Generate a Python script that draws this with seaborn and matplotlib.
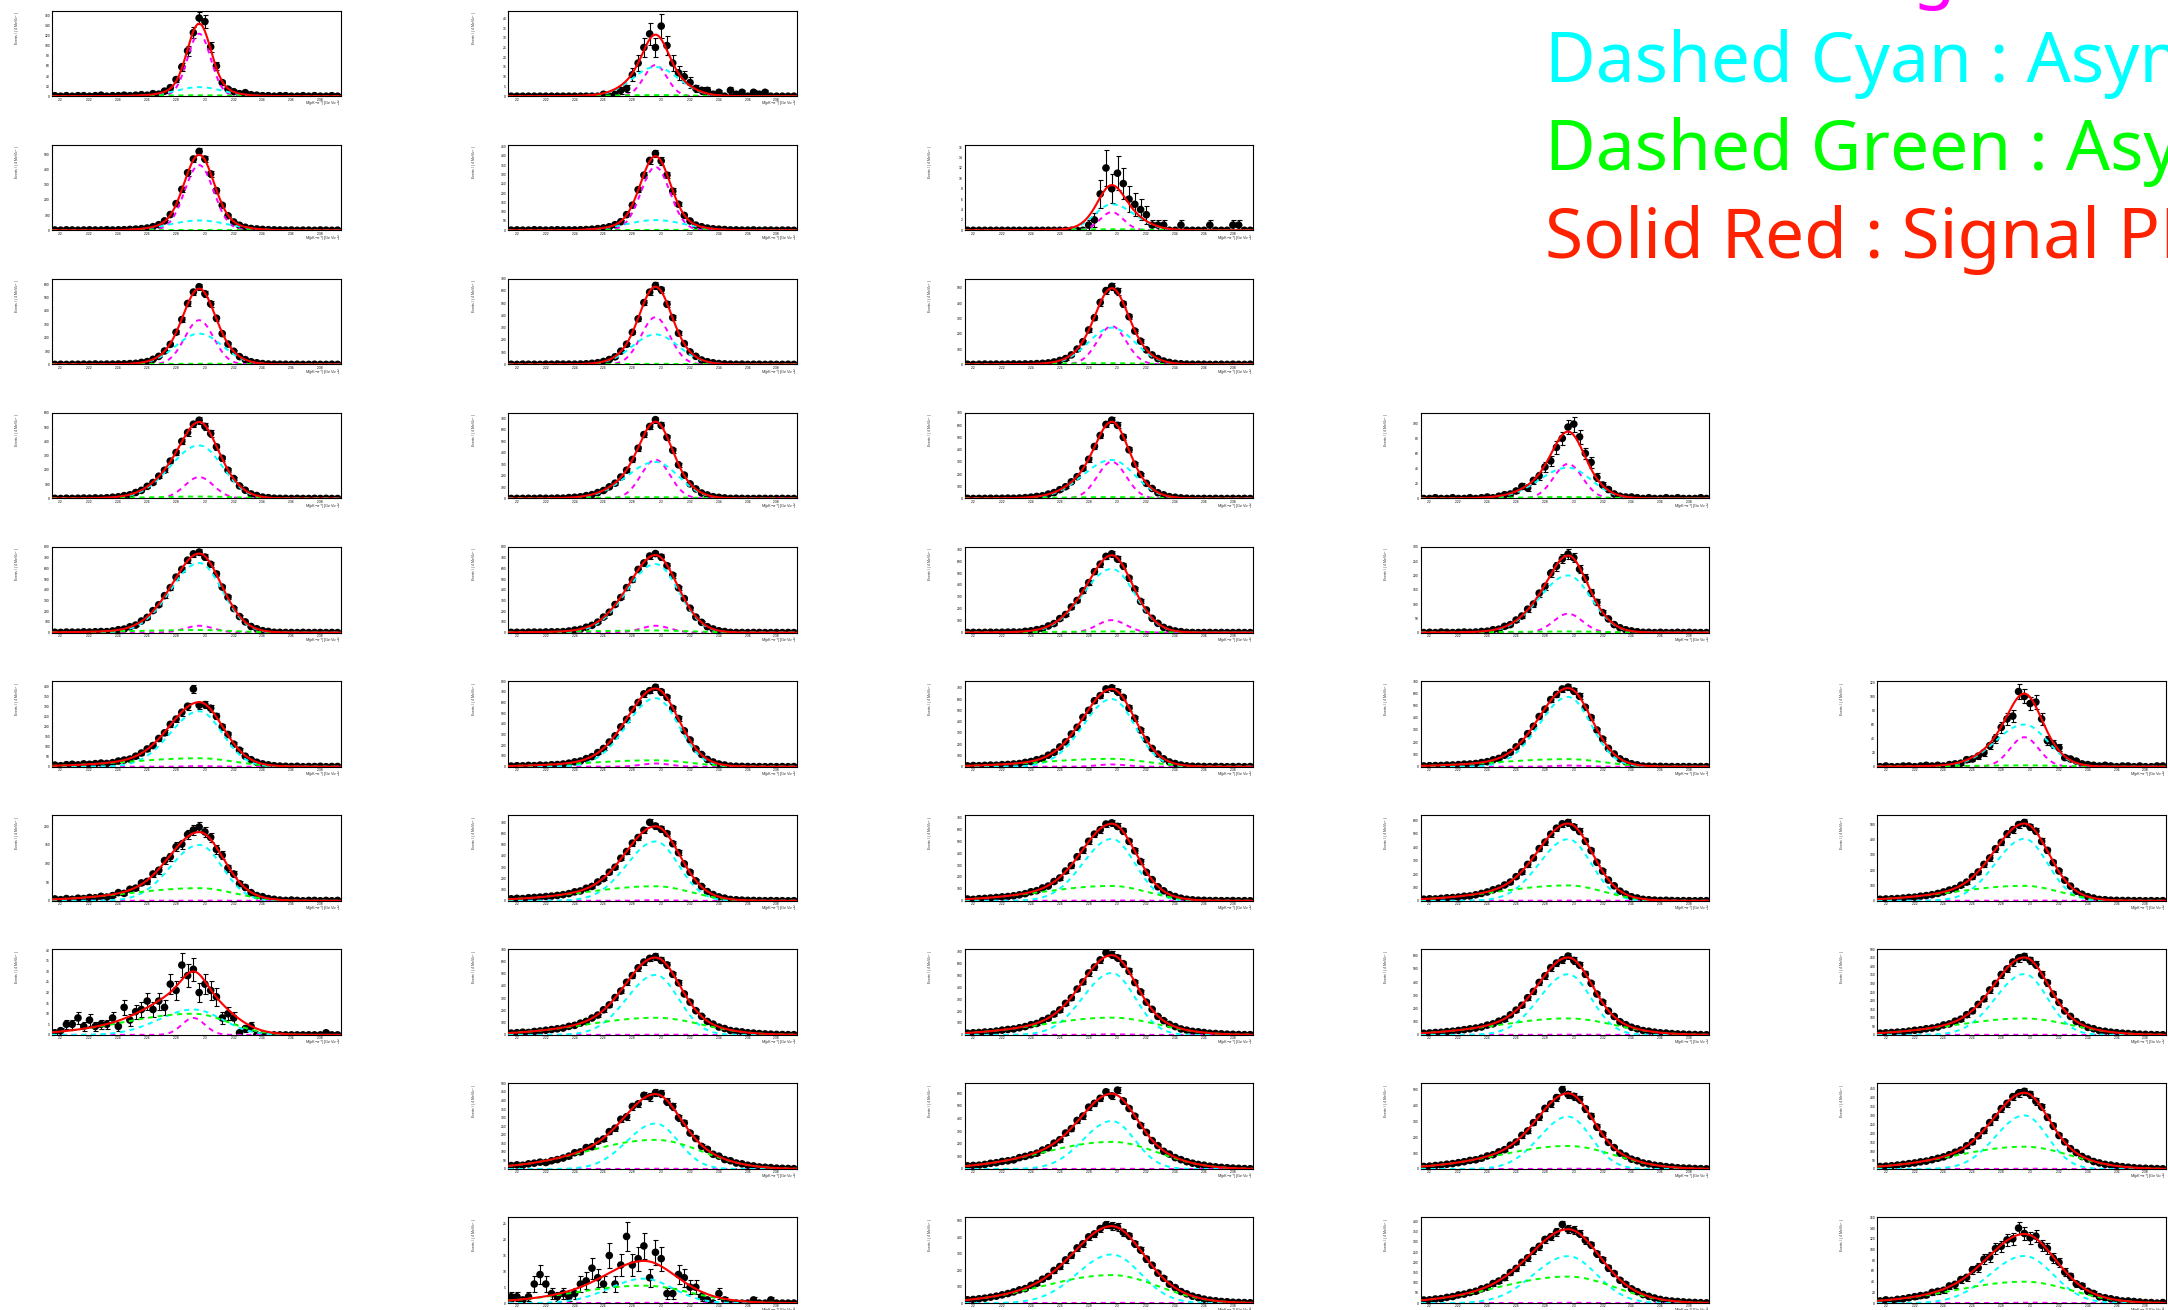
import numpy as np
import matplotlib
matplotlib.use("Agg")
import matplotlib.pyplot as plt
from matplotlib.ticker import MaxNLocator, AutoMinorLocator, FixedLocator, FixedFormatter
import seaborn as sns

sns.set_style("white")
plt.rcParams["font.family"] = ["Liberation Sans", "DejaVu Sans"]
plt.rcParams["mathtext.fontset"] = "dejavusans"

# Histogram binning of the invariant mass (GeV/c^2)
MASS_LO, MASS_HI, N_BINS = 2.194, 2.394, 50
BIN_W = (MASS_HI - MASS_LO) / N_BINS
mass_ticks = [2.20, 2.22, 2.24, 2.26, 2.28, 2.30, 2.32, 2.34, 2.36, 2.38]
mass_tick_labels = ["2.2", "2.22", "2.24", "2.26", "2.28", "2.3", "2.32", "2.34", "2.36", "2.38"]

# Grid slot (row, column) of every fitted sample
panel_row = [0, 0, 1, 1, 1, 2, 2, 2, 3, 3, 3, 3, 4, 4, 4, 4, 5, 5, 5, 5, 5,
             6, 6, 6, 6, 6, 7, 7, 7, 7, 7, 8, 8, 8, 8, 9, 9, 9, 9]
panel_col = [0, 1, 0, 1, 2, 0, 1, 2, 0, 1, 2, 3, 0, 1, 2, 3, 0, 1, 2, 3, 4,
             0, 1, 2, 3, 4, 0, 1, 2, 3, 4, 1, 2, 3, 4, 1, 2, 3, 4]

# Upper edge of each y axis (events per bin)
y_top = [170, 44, 565, 460, 16.5, 640, 700, 560, 600, 750, 700, 114, 800, 800, 720, 300,
         425, 800, 760, 700, 122, 230, 765, 720, 640, 560, 40.5, 700, 720, 650, 500,
         500, 679, 540, 480, 27, 520, 420, 160]

# Fitted signal parameters: common mean, and peak heights / widths of the three pieces
mean_gev = [2.296, 2.296, 2.296, 2.296, 2.296, 2.296, 2.296, 2.296, 2.296, 2.296, 2.296, 2.296,
            2.296, 2.296, 2.296, 2.296, 2.296, 2.296, 2.296, 2.296, 2.296, 2.296, 2.296, 2.296,
            2.296, 2.296, 2.292, 2.296, 2.296, 2.296, 2.296, 2.296, 2.296, 2.296, 2.296,
            2.288, 2.296, 2.296, 2.296]
core_amp = [124, 16, 430, 340, 3.5, 330, 385, 250, 150, 340, 300, 46, 64, 64, 105, 66,
            3, 30, 20, 10, 42, 0.5, 5, 3, 2, 2, 8, 2, 5, 2, 1, 2, 2, 2, 2, 0.1, 2, 2, 1]
core_sigma_mev = [8, 8, 10, 10, 8, 10, 10, 10, 10, 10, 10, 10, 10, 10, 10, 10, 10, 10, 10, 10, 10,
                  10, 10, 10, 10, 10, 8, 10, 10, 10, 10, 10, 10, 10, 10, 10, 10, 10, 10]
asym_amp = [18, 15, 65, 55, 5, 230, 245, 240, 372, 320, 315, 41, 650, 640, 535, 200,
            275, 640, 600, 570, 60, 150, 530, 520, 460, 405, 12, 490, 520, 460, 355,
            265, 380, 330, 300, 7.7, 295, 230, 88]
asym_sigma_lo_mev = [16, 16, 20, 20, 12, 16, 16, 16, 20, 20, 20, 20, 20, 20, 20, 20, 20, 20, 20, 20, 20,
                     20, 20, 20, 20, 20, 24, 20, 20, 20, 20, 20, 20, 20, 20, 24, 24, 24, 24]
asym_sigma_hi_mev = [16, 16, 20, 20, 16, 16, 16, 16, 16, 16, 16, 16, 16, 16, 16, 16, 16, 16, 16, 16, 16,
                     16, 16, 16, 16, 16, 20, 16, 16, 16, 16, 16, 16, 16, 16, 20, 20, 20, 20]
wide_amp = [2, 0.6, 3, 3, 0.2, 6, 5, 8, 14, 12, 12, 2, 24, 20, 10, 4, 42, 60, 70, 62, 2,
            34, 130, 125, 115, 98, 10, 140, 145, 125, 96, 170, 215, 145, 125, 5.5, 170, 130, 40]
wide_sigma_lo_mev = [32, 32, 32, 32, 32, 40, 40, 40, 40, 40, 40, 40, 48, 48, 48, 48, 48, 48, 48, 48, 48,
                     48, 48, 48, 48, 48, 48, 48, 48, 48, 48, 48, 48, 48, 48, 48, 48, 48, 48]
wide_sigma_hi_mev = [24, 24, 24, 24, 24, 24, 24, 24, 24, 24, 24, 24, 24, 24, 24, 24, 24, 24, 24, 24, 24,
                     24, 24, 24, 24, 24, 24, 32, 32, 32, 32, 32, 32, 32, 32, 32, 32, 32, 32]

# Binned event counts, one list per sample
counts_r0c0 = [1, 0, 1, 0, 1, 1, 0, 1, 2, 0, 1, 1, 2, 1, 2, 3, 2, 5, 4, 10, 17, 33, 58, 90, 126,
               155, 148, 98, 60, 27, 14, 9, 5, 7, 3, 2, 1, 1, 0, 1, 1, 0, 0, 1, 0, 1, 0, 0, 1, 0]
counts_r0c1 = [0, 0, 0, 0, 0, 0, 0, 0, 0, 0, 0, 0, 0, 0, 0, 0, 1, 0, 1, 3, 4, 11, 17, 25, 32,
               25, 36, 26, 17, 12, 10, 7, 4, 3, 3, 1, 2, 0, 3, 1, 2, 0, 2, 1, 2, 0, 0, 0, 0, 0]
counts_r1c0 = [2, 1, 3, 2, 1, 2, 3, 2, 2, 4, 2, 3, 4, 6, 8, 11, 15, 24, 37, 62, 104, 176, 270, 380, 470,
               520, 470, 372, 262, 165, 96, 55, 33, 20, 12, 9, 6, 4, 3, 2, 1, 2, 0, 1, 1, 0, 2, 1, 0, 1]
counts_r1c1 = [1, 2, 1, 1, 3, 2, 1, 2, 3, 2, 2, 2, 3, 4, 6, 9, 13, 19, 30, 46, 84, 135, 218, 296, 375,
               412, 372, 296, 210, 140, 80, 50, 28, 19, 12, 8, 6, 4, 2, 2, 1, 1, 2, 0, 1, 1, 0, 1, 1, 0]
counts_r1c2 = [0, 0, 0, 0, 0, 0, 0, 0, 0, 0, 0, 0, 0, 0, 0, 0, 0, 0, 0, 0, 0, 1, 2, 7, 12,
               8, 11, 9, 6, 5, 4, 3, 1, 1, 1, 0, 0, 1, 0, 0, 0, 0, 1, 0, 0, 0, 1, 1, 0, 0]
counts_r2c0 = [0, 1, 0, 1, 1, 2, 1, 3, 1, 2, 2, 3, 4, 6, 8, 15, 21, 38, 60, 100, 150, 240, 335, 455, 540,
               580, 528, 452, 345, 230, 152, 98, 58, 36, 20, 12, 6, 3, 2, 1, 1, 0, 1, 0, 0, 1, 0, 0, 1, 0]
counts_r2c1 = [1, 0, 2, 1, 1, 0, 2, 1, 3, 2, 2, 2, 3, 5, 9, 14, 24, 40, 62, 108, 165, 262, 372, 505, 590,
               645, 610, 492, 382, 255, 170, 102, 66, 36, 22, 13, 7, 4, 2, 1, 2, 0, 1, 1, 0, 1, 0, 0, 1, 0]
counts_r2c2 = [1, 0, 1, 2, 1, 2, 1, 2, 3, 2, 3, 3, 5, 7, 10, 16, 26, 38, 62, 100, 148, 225, 305, 405, 482,
               510, 478, 395, 312, 218, 152, 95, 62, 38, 22, 13, 7, 4, 2, 1, 1, 1, 0, 0, 1, 0, 1, 0, 0, 1]
counts_r3c0 = [1, 0, 2, 1, 2, 3, 2, 4, 3, 5, 9, 12, 20, 26, 42, 57, 85, 112, 156, 198, 262, 322, 400, 462, 520,
               548, 505, 455, 362, 282, 198, 140, 88, 58, 32, 21, 10, 6, 2, 1, 1, 0, 1, 0, 0, 1, 0, 1, 0, 0]
counts_r3c1 = [0, 1, 1, 2, 1, 3, 2, 2, 4, 3, 8, 11, 15, 25, 34, 52, 70, 102, 134, 188, 248, 342, 440, 560, 630,
               690, 640, 535, 422, 295, 205, 128, 84, 48, 31, 16, 10, 5, 1, 2, 1, 0, 0, 1, 1, 0, 0, 1, 0, 0]
counts_r3c2 = [1, 0, 1, 1, 2, 1, 2, 3, 2, 4, 7, 11, 17, 22, 36, 48, 72, 96, 136, 178, 246, 320, 425, 515, 605,
               640, 598, 502, 398, 280, 196, 124, 82, 47, 30, 15, 10, 5, 2, 1, 0, 1, 0, 1, 0, 0, 1, 0, 1, 0]
counts_r3c3 = [0, 0, 1, 0, 0, 1, 0, 0, 1, 0, 1, 2, 1, 3, 5, 6, 10, 16, 14, 24, 30, 42, 50, 68, 80,
               95, 99, 82, 60, 48, 28, 18, 12, 6, 3, 2, 2, 1, 0, 1, 0, 0, 1, 0, 1, 0, 0, 0, 1, 0]
counts_r4c0 = [3, 2, 5, 4, 4, 7, 5, 8, 10, 9, 16, 27, 33, 54, 70, 108, 142, 205, 260, 345, 420, 518, 590, 676, 735,
               752, 705, 638, 548, 425, 330, 225, 150, 100, 57, 36, 18, 11, 3, 2, 1, 1, 0, 2, 0, 1, 1, 0, 1, 0]
counts_r4c1 = [2, 3, 2, 4, 5, 4, 6, 7, 7, 9, 15, 24, 31, 50, 68, 98, 145, 190, 262, 328, 420, 495, 590, 650, 715,
               738, 705, 625, 536, 418, 318, 228, 145, 96, 55, 34, 17, 10, 2, 1, 1, 0, 1, 1, 0, 0, 1, 0, 1, 0]
counts_r4c2 = [1, 2, 1, 2, 3, 2, 3, 4, 5, 4, 11, 15, 25, 34, 56, 76, 118, 152, 215, 270, 352, 420, 512, 575, 640,
               662, 618, 560, 458, 366, 262, 190, 120, 78, 44, 27, 14, 8, 2, 1, 0, 1, 1, 0, 1, 0, 0, 1, 0, 0]
counts_r4c3 = [0, 1, 0, 2, 1, 0, 1, 2, 1, 2, 4, 5, 10, 12, 22, 28, 44, 58, 82, 100, 138, 162, 208, 232, 258,
               275, 262, 222, 190, 140, 106, 70, 48, 28, 17, 10, 6, 3, 1, 1, 0, 1, 0, 0, 1, 0, 1, 0, 0, 0]
counts_r5c0 = [8, 5, 10, 12, 9, 14, 12, 15, 18, 16, 20, 28, 33, 38, 52, 68, 88, 105, 140, 168, 210, 236, 270, 300, 385,
               305, 308, 290, 250, 198, 160, 112, 82, 52, 35, 22, 14, 9, 5, 3, 2, 1, 2, 0, 1, 1, 2, 0, 1, 1]
counts_r5c1 = [6, 9, 8, 12, 10, 15, 13, 18, 20, 25, 33, 45, 53, 75, 94, 132, 170, 230, 288, 372, 442, 535, 600, 680, 710,
               742, 700, 648, 545, 450, 335, 250, 165, 114, 68, 44, 25, 16, 6, 4, 3, 2, 1, 1, 0, 1, 0, 1, 0, 1]
counts_r5c2 = [7, 10, 9, 12, 14, 13, 18, 20, 24, 28, 38, 46, 62, 74, 102, 128, 175, 220, 290, 350, 438, 500, 585, 630, 690,
               700, 665, 615, 520, 430, 325, 240, 162, 112, 70, 42, 28, 15, 7, 4, 3, 2, 1, 2, 1, 0, 1, 1, 0, 1]
counts_r5c3 = [6, 8, 9, 10, 13, 14, 17, 21, 22, 26, 34, 41, 56, 68, 94, 118, 162, 205, 270, 330, 410, 470, 548, 590, 635,
               650, 618, 575, 486, 402, 300, 226, 150, 104, 64, 42, 24, 15, 5, 4, 2, 3, 1, 1, 0, 1, 1, 0, 1, 0]
counts_r5c4 = [0, 1, 0, 0, 1, 1, 0, 1, 2, 1, 2, 1, 3, 4, 5, 10, 11, 15, 20, 30, 40, 56, 68, 72, 107,
               100, 90, 92, 68, 37, 32, 27, 13, 11, 8, 4, 3, 2, 1, 2, 1, 0, 1, 1, 0, 1, 0, 0, 1, 1]
counts_r6c0 = [5, 3, 6, 4, 7, 6, 9, 8, 12, 10, 14, 22, 20, 31, 34, 48, 52, 72, 82, 108, 118, 145, 152, 178, 190,
               198, 185, 170, 138, 122, 88, 72, 46, 36, 22, 14, 11, 6, 4, 2, 1, 2, 1, 0, 1, 1, 0, 1, 0, 1]
counts_r6c1 = [18, 22, 20, 27, 30, 33, 38, 42, 48, 55, 64, 80, 88, 112, 128, 168, 198, 255, 300, 380, 440, 515, 565, 630, 700,
               668, 640, 600, 510, 430, 330, 255, 178, 128, 82, 56, 35, 24, 12, 9, 6, 4, 3, 2, 1, 2, 1, 1, 0, 1]
counts_r6c2 = [15, 12, 18, 20, 24, 28, 33, 36, 42, 50, 60, 76, 85, 108, 124, 162, 192, 250, 296, 370, 425, 500, 560, 598, 645,
               655, 625, 585, 500, 420, 330, 240, 178, 118, 84, 52, 36, 22, 13, 8, 5, 4, 2, 2, 1, 1, 2, 0, 1, 0]
counts_r6c3 = [12, 15, 14, 18, 22, 24, 28, 34, 36, 45, 55, 66, 82, 94, 118, 140, 180, 216, 272, 320, 390, 438, 498, 542, 575,
               585, 552, 518, 445, 375, 288, 222, 155, 112, 72, 50, 30, 21, 11, 8, 5, 3, 4, 2, 1, 1, 1, 0, 1, 1]
counts_r6c4 = [10, 12, 13, 15, 18, 22, 24, 30, 34, 40, 48, 58, 70, 80, 102, 122, 158, 188, 238, 280, 340, 382, 438, 465, 498,
               512, 482, 455, 388, 330, 250, 195, 135, 96, 62, 43, 27, 18, 9, 7, 4, 3, 2, 2, 1, 1, 0, 1, 0, 1]
counts_r7c0 = [1, 2, 5, 5, 8, 4, 7, 4, 5, 5, 8, 4, 13, 7, 11, 12, 16, 12, 16, 13, 24, 21, 33, 28, 31,
               20, 24, 21, 18, 8, 10, 8, 1, 3, 4, 0, 0, 0, 0, 0, 0, 0, 0, 0, 0, 0, 0, 1, 0, 0]
counts_r7c1 = [15, 18, 22, 20, 28, 32, 38, 44, 50, 56, 70, 78, 96, 110, 138, 162, 205, 245, 305, 358, 430, 485, 548, 595, 625,
               640, 608, 572, 495, 425, 335, 268, 198, 152, 110, 88, 64, 52, 36, 30, 25, 18, 15, 11, 8, 6, 4, 3, 2, 2]
counts_r7c2 = [14, 18, 20, 24, 26, 32, 40, 46, 50, 60, 70, 86, 96, 120, 140, 175, 210, 265, 312, 385, 445, 520, 570, 630, 690,
               675, 648, 598, 535, 440, 362, 275, 215, 155, 120, 88, 70, 50, 40, 30, 26, 20, 14, 12, 9, 6, 5, 3, 2, 2]
counts_r7c3 = [12, 15, 18, 20, 25, 28, 34, 40, 46, 52, 60, 74, 84, 104, 120, 152, 188, 225, 282, 330, 398, 448, 510, 545, 570,
               598, 565, 530, 460, 392, 310, 248, 182, 140, 100, 78, 58, 46, 33, 28, 21, 16, 14, 10, 7, 6, 4, 3, 2, 1]
counts_r7c4 = [10, 12, 14, 16, 18, 22, 27, 30, 36, 40, 46, 58, 64, 80, 92, 118, 140, 178, 210, 262, 300, 352, 385, 425, 448,
               458, 435, 410, 352, 305, 238, 190, 140, 108, 78, 60, 44, 36, 25, 21, 16, 13, 10, 8, 6, 4, 3, 2, 1, 1]
counts_r8c1 = [20, 24, 22, 30, 34, 40, 38, 48, 55, 64, 75, 95, 100, 125, 130, 162, 175, 218, 238, 290, 305, 365, 380, 430, 420,
               445, 440, 392, 365, 300, 268, 210, 178, 132, 115, 86, 75, 55, 48, 35, 30, 22, 18, 12, 10, 8, 5, 4, 3, 2]
counts_r8c2 = [25, 28, 30, 36, 45, 50, 60, 65, 72, 90, 100, 112, 125, 150, 168, 205, 232, 285, 320, 385, 420, 490, 520, 560, 612,
               580, 625, 540, 480, 418, 345, 290, 225, 185, 140, 118, 90, 74, 58, 46, 36, 30, 22, 17, 13, 10, 7, 5, 3, 2]
counts_r8c3 = [16, 18, 22, 25, 30, 34, 40, 46, 54, 58, 68, 82, 90, 108, 122, 150, 170, 212, 240, 292, 328, 382, 410, 450, 500,
               470, 458, 438, 380, 332, 265, 220, 168, 135, 100, 82, 62, 52, 38, 32, 24, 20, 15, 12, 8, 6, 5, 3, 2, 1]
counts_r8c4 = [14, 16, 18, 22, 26, 30, 34, 40, 44, 52, 60, 68, 80, 94, 106, 130, 152, 186, 215, 260, 292, 338, 368, 405, 425,
               435, 418, 380, 348, 290, 242, 188, 152, 114, 92, 70, 56, 42, 34, 26, 22, 17, 13, 10, 7, 5, 4, 3, 2, 1]
counts_r9c1 = [2, 2, 1, 2, 6, 9, 6, 3, 2, 3, 2, 3, 6, 7, 11, 8, 6, 15, 6, 12, 21, 12, 14, 18, 8,
               16, 14, 3, 3, 9, 8, 5, 5, 2, 1, 0, 3, 1, 0, 0, 0, 0, 1, 0, 0, 1, 0, 0, 0, 0]
counts_r9c2 = [20, 22, 26, 30, 36, 42, 50, 58, 68, 80, 88, 108, 120, 145, 162, 198, 222, 262, 290, 335, 360, 402, 420, 452, 475,
               468, 462, 430, 408, 360, 322, 268, 230, 182, 150, 115, 94, 70, 56, 42, 33, 24, 18, 14, 10, 8, 5, 4, 3, 2]
counts_r9c3 = [15, 16, 20, 22, 28, 32, 40, 44, 52, 58, 70, 78, 96, 108, 125, 150, 170, 200, 222, 258, 278, 312, 325, 348, 385,
               362, 358, 340, 308, 285, 242, 212, 172, 145, 112, 92, 70, 56, 42, 33, 25, 18, 13, 10, 8, 6, 4, 3, 2, 1]
counts_r9c4 = [4, 6, 5, 7, 8, 10, 12, 14, 15, 20, 22, 24, 32, 35, 44, 48, 62, 66, 82, 86, 102, 106, 118, 120, 140,
               130, 122, 125, 108, 102, 84, 76, 58, 50, 36, 32, 22, 18, 12, 10, 8, 6, 4, 4, 3, 2, 1, 1, 0, 1]

panel_counts = [counts_r0c0, counts_r0c1,
                counts_r1c0, counts_r1c1, counts_r1c2,
                counts_r2c0, counts_r2c1, counts_r2c2,
                counts_r3c0, counts_r3c1, counts_r3c2, counts_r3c3,
                counts_r4c0, counts_r4c1, counts_r4c2, counts_r4c3,
                counts_r5c0, counts_r5c1, counts_r5c2, counts_r5c3, counts_r5c4,
                counts_r6c0, counts_r6c1, counts_r6c2, counts_r6c3, counts_r6c4,
                counts_r7c0, counts_r7c1, counts_r7c2, counts_r7c3, counts_r7c4,
                counts_r8c1, counts_r8c2, counts_r8c3, counts_r8c4,
                counts_r9c1, counts_r9c2, counts_r9c3, counts_r9c4]

# Colour key written in the top-right corner
key_lines = ["Dashed Magenta : Gaussian",
             "Dashed Cyan : Asymmetric Gaussian",
             "Dashed Green : Asymmetric Gaussian (wide)",
             "Solid Red : Signal PDF"]
key_colors = ["#ff00ff", "#00ffff", "#00ff00", "#ff2200"]

MAGENTA, CYAN, GREEN, RED = "#ff00ff", "#00ffff", "#00ff00", "#ff0000"


def split_gauss(x, mu, s_lo, s_hi):
    s = np.where(x < mu, s_lo, s_hi)
    return np.exp(-0.5 * ((x - mu) / s) ** 2)


W_PX, H_PX = 2168, 1310
fig = plt.figure(figsize=(W_PX / 100, H_PX / 100), dpi=100)
fig.patch.set_facecolor("white")

AX_W, AX_H = 288.5, 85.7
COL_X0, COL_DX = 52.0, 456.3
ROW_Y0, ROW_DY = 10.5, 134.1

xs = np.linspace(MASS_LO, MASS_HI, 600)
dash = (0, (2.6, 2.4))

for k in range(len(panel_row)):
    r, c = panel_row[k], panel_col[k]
    left = COL_X0 + c * COL_DX
    top = ROW_Y0 + r * ROW_DY
    ax = fig.add_axes([left / W_PX, 1 - (top + AX_H) / H_PX, AX_W / W_PX, AX_H / H_PX])

    counts = np.asarray(panel_counts[k], dtype=float)
    centers = MASS_LO + (np.arange(len(counts)) + 0.5) * BIN_W

    mu = mean_gev[k]
    core = core_amp[k] * split_gauss(xs, mu, core_sigma_mev[k] / 1000, core_sigma_mev[k] / 1000)
    asym = asym_amp[k] * split_gauss(xs, mu, asym_sigma_lo_mev[k] / 1000, asym_sigma_hi_mev[k] / 1000)
    wide = wide_amp[k] * split_gauss(xs, mu, wide_sigma_lo_mev[k] / 1000, wide_sigma_hi_mev[k] / 1000)
    total = core + asym + wide

    # data points with Poisson errors
    ax.errorbar(centers, counts, yerr=np.sqrt(counts), fmt="none", ecolor="black",
                elinewidth=0.8, capsize=1.8, capthick=0.8, zorder=2)
    sns.scatterplot(x=centers, y=counts, ax=ax, color="black", s=30, edgecolor="none",
                    zorder=3, legend=False)

    # fit components and their sum
    for comp, col in ((core, MAGENTA), (asym, CYAN), (wide, GREEN)):
        sns.lineplot(x=xs, y=comp, ax=ax, color=col, linewidth=1.4, linestyle=dash,
                     estimator=None, sort=False, zorder=4)
    sns.lineplot(x=xs, y=total, ax=ax, color=RED, linewidth=1.5,
                 estimator=None, sort=False, zorder=5)

    ax.set_xlim(MASS_LO, MASS_HI)
    ax.set_ylim(0, y_top[k])
    ax.set_xlabel("")
    ax.set_ylabel("")

    ax.xaxis.set_major_locator(FixedLocator(mass_ticks))
    ax.xaxis.set_major_formatter(FixedFormatter(mass_tick_labels))
    ax.xaxis.set_minor_locator(AutoMinorLocator(5))
    ax.yaxis.set_major_locator(MaxNLocator(nbins=10, steps=[1, 2, 5, 10]))
    ax.yaxis.set_minor_locator(AutoMinorLocator(5))

    ax.tick_params(axis="both", which="both", direction="in", top=False, right=False,
                   colors="black", width=0.6)
    ax.tick_params(axis="y", which="major", length=4.5, labelsize=2.4, pad=1.5)
    ax.tick_params(axis="y", which="minor", length=2.3)
    ax.tick_params(axis="x", which="major", length=3.2, labelsize=2.4, pad=1.0)
    ax.tick_params(axis="x", which="minor", length=1.6)

    for sp in ax.spines.values():
        sp.set_visible(True)
        sp.set_color("black")
        sp.set_linewidth(0.8)

    ax.text(-0.118, 1.0, r"Events / ( 4 MeV/$c^{2}$ )", transform=ax.transAxes,
            rotation=90, ha="center", va="top", fontsize=2.5, color="#333333")
    ax.text(1.0, -0.035, r"M(pK$^{-}\pi^{+}$) [GeV/$c^{2}$]", transform=ax.transAxes,
            ha="right", va="top", fontsize=2.8, color="#333333")

# colour key, top right
key_x = 1545 / W_PX
key_baselines = [-6, 82, 170, 258]
for text, col, base in zip(key_lines, key_colors, key_baselines):
    fig.text(key_x, 1 - base / H_PX, text, color=col, fontsize=50,
             family=["Noto Sans", "DejaVu Sans"], fontstretch="extra-condensed",
             ha="left", va="baseline")

fig.savefig("out.png", dpi=100, facecolor="white")
